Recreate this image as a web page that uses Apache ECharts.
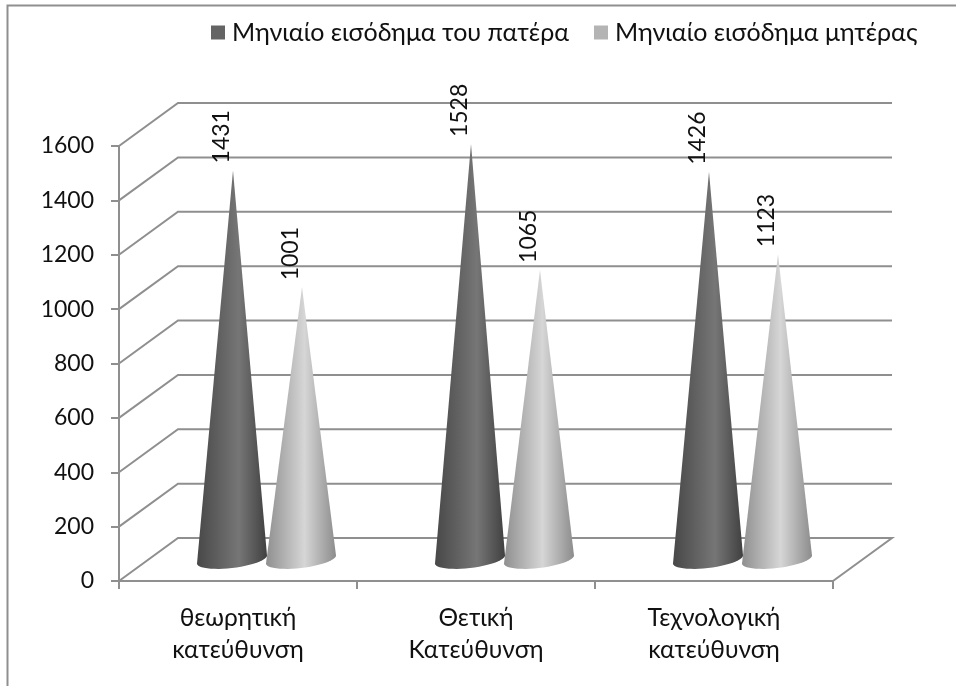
<!DOCTYPE html>
<html>
<head>
<meta charset="utf-8">
<style>
  html, body { margin: 0; padding: 0; background: #fff; }
  #chart { width: 956px; height: 686px; }
</style>
<script src="https://cdn.jsdelivr.net/npm/echarts@6/dist/echarts.min.js"></script>
</head>
<body>
<div id="chart"></div>
<script>
  const categories = ['θεωρητική\nκατεύθυνση', 'Θετική\nΚατεύθυνση', 'Τεχνολογική\nκατεύθυνση'];
  const fatherIncome = [1431, 1528, 1426];
  const motherIncome = [1001, 1065, 1123];
  const yTicks = [0, 200, 400, 600, 800, 1000, 1200, 1400, 1600];
  const seriesNames = ['Μηνιαίο εισόδημα του πατέρα', 'Μηνιαίο εισόδημα μητέρας'];

  const fontName = 'Lato, "Open Sans", sans-serif';
  const lineColor = '#8f8f8f';
  const depthX = 59;
  const depthY = -43;

  // gridlines run along the left wall, then along the back wall
  const renderGrid = (params, api) => {
    const value = api.value(1);
    const p = api.coord([0, value]);
    const left = p[0] - api.size([1, 0])[0] / 2;
    const right = left + api.size([1, 0])[0] * categories.length;
    const points = [[left, p[1]], [left + depthX, p[1] + depthY], [right + depthX, p[1] + depthY]];
    if (value === 0) {
      points.push([right, p[1]]);
    }
    return {
      type: 'polyline',
      shape: { points: points },
      style: { stroke: lineColor, lineWidth: 2, fill: null }
    };
  };

  const makeCone = (offset, stops) => (params, api) => {
    const tip = api.coord([api.value(0), api.value(1)]);
    const base = api.coord([api.value(0), 0]);
    const cx = base[0] + depthX / 2 + offset - 1;
    const cy = base[1] + depthY / 2;
    const tipY = tip[1] + depthY / 2;
    const rx = 35;
    const ry = 8.5;
    const tilt = 4;
    const points = [[cx + 1, tipY]];
    for (let i = 0; i <= 24; i++) {
      const t = Math.PI * i / 24;
      points.push([cx + rx * Math.cos(t), cy + ry * Math.sin(t) - tilt * Math.cos(t)]);
    }
    return {
      type: 'group',
      children: [
        {
          type: 'polygon',
          shape: { points: points },
          style: {
            fill: {
              type: 'linear', x: 0, y: 0, x2: 1, y2: 0,
              colorStops: stops
            }
          }
        },
        {
          type: 'text',
          x: cx - 10,
          y: tipY - 7,
          rotation: Math.PI / 2,
          style: {
            text: String(api.value(1)),
            font: '23px ' + fontName,
            fill: '#111',
            align: 'left',
            verticalAlign: 'middle'
          }
        }
      ]
    };
  };

  const darkStops = [
    { offset: 0, color: '#484848' },
    { offset: 0.6, color: '#767676' },
    { offset: 1, color: '#404040' }
  ];
  const lightStops = [
    { offset: 0, color: '#8f8f8f' },
    { offset: 0.55, color: '#d6d6d6' },
    { offset: 1, color: '#8c8c8c' }
  ];

  const option = {
    animation: false,
    backgroundColor: '#fff',
    textStyle: { fontFamily: fontName },
    grid: { left: 119, top: 146, width: 714, height: 435 },
    legend: {
      data: seriesNames,
      left: 206,
      top: 15,
      itemWidth: 14,
      itemHeight: 14,
      itemGap: 25,
      icon: 'rect',
      textStyle: { fontSize: 25, color: '#111', fontFamily: fontName, padding: [0, 0, 0, 2] }
    },
    xAxis: {
      type: 'category',
      data: categories,
      boundaryGap: true,
      axisLine: { lineStyle: { color: lineColor, width: 2 } },
      axisTick: { show: true, alignWithLabel: false, length: 8, lineStyle: { color: lineColor, width: 2 } },
      axisLabel: { fontSize: 24.5, color: '#111', margin: 21, lineHeight: 32, interval: 0, fontFamily: fontName }
    },
    yAxis: {
      type: 'value',
      min: 0,
      max: 1600,
      interval: 200,
      splitLine: { show: false },
      axisLine: { show: true, lineStyle: { color: lineColor, width: 2 } },
      axisTick: { show: true, length: 8, lineStyle: { color: lineColor, width: 2 } },
      axisLabel: { fontSize: 23, color: '#111', margin: 25, fontFamily: fontName, formatter: (v) => String(v) }
    },
    series: [
      {
        type: 'custom',
        name: 'grid',
        silent: true,
        clip: false,
        z: 1,
        renderItem: renderGrid,
        data: yTicks.map((v) => [0, v])
      },
      {
        type: 'custom',
        name: seriesNames[0],
        clip: false,
        z: 2,
        itemStyle: { color: '#646464' },
        renderItem: makeCone(-34.5, darkStops),
        data: fatherIncome.map((v, i) => [i, v])
      },
      {
        type: 'custom',
        name: seriesNames[1],
        clip: false,
        z: 3,
        itemStyle: { color: '#b4b4b4' },
        renderItem: makeCone(34.5, lightStops),
        data: motherIncome.map((v, i) => [i, v])
      }
    ],
    graphic: [
      {
        type: 'polyline',
        silent: true,
        shape: { points: [[7.5, 686], [7.5, 5.5], [956, 5.5]] },
        style: { stroke: lineColor, lineWidth: 2, fill: null }
      }
    ]
  };

  const myChart = echarts.init(document.getElementById('chart'));
  myChart.setOption(option);
</script>
</body>
</html>
